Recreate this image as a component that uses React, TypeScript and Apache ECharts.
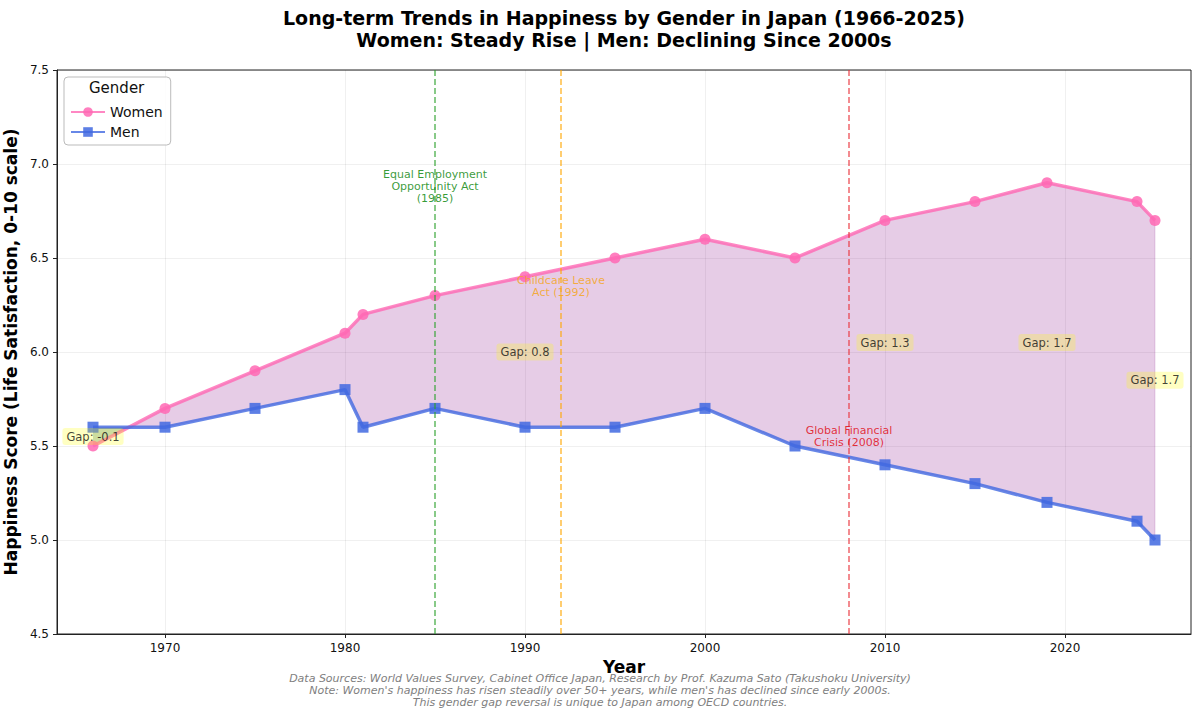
import React, { useEffect, useRef } from "react";
import * as echarts from "echarts";

const years = [1966, 1970, 1975, 1980, 1981, 1985, 1990, 1995, 2000, 2005, 2010, 2015, 2019, 2024, 2025];
const women = [5.5, 5.7, 5.9, 6.1, 6.2, 6.3, 6.4, 6.5, 6.6, 6.5, 6.7, 6.8, 6.9, 6.8, 6.7];
const men = [5.6, 5.6, 5.7, 5.8, 5.6, 5.7, 5.6, 5.6, 5.7, 5.5, 5.4, 5.3, 5.2, 5.1, 5.0];

const xTicks = [1970, 1980, 1990, 2000, 2010, 2020];

const eventYears = [1985, 1992, 2008];
const eventLabels = ["Equal Employment\nOpportunity Act\n(1985)", "Childcare Leave\nAct (1992)", "Global Financial\nCrisis (2008)"];
const eventColors = ["#2ca02c", "#ffa500", "#e8313a"];
const eventTextColors = ["#138a13", "#f5a623", "#e0101a"];
const eventLabelY = [6.88, 6.35, 5.55];

const gapYears = [1966, 1990, 2010, 2019, 2025];

const FONT = "DejaVu Sans";

export default function App() {
  const ref = useRef<HTMLDivElement>(null);

  useEffect(() => {
    document.body.style.margin = "0";
    const chart = echarts.init(ref.current!, null, { renderer: "svg" });

    // merged boundary points with crossings for fill_between
    const merged: number[][] = [];
    for (let i = 0; i < years.length; i++) {
      if (i > 0) {
        const d0 = women[i - 1] - men[i - 1];
        const d1 = women[i] - men[i];
        if (d0 * d1 < 0) {
          const t = d0 / (d0 - d1);
          const x = years[i - 1] + t * (years[i] - years[i - 1]);
          const y = men[i - 1] + t * (men[i] - men[i - 1]);
          merged.push([x, y, y]);
        }
      }
      merged.push([years[i], women[i], men[i]]);
    }

    const gapData = gapYears.map((yr) => {
      const i = years.indexOf(yr);
      const g = women[i] - men[i];
      return {
        value: [yr, (women[i] + men[i]) / 2],
        gap: (g >= 0 ? "" : "-") + Math.abs(g).toFixed(1),
      };
    });

    const option: any = {
      animation: false,
      textStyle: { fontFamily: FONT },
      grid: {
        left: 57,
        right: 9,
        top: 70,
        bottom: 82,
        containLabel: false,
        outerBoundsMode: "none",
        show: true,
        borderColor: "#222",
        borderWidth: 1,
        backgroundColor: "transparent",
      },
      legend: {
        orient: "vertical",
        left: 64,
        top: 77,
        padding: [28, 8, 6, 6],
        itemGap: 6,
        itemWidth: 34,
        itemHeight: 12,
        borderColor: "#bbb",
        borderWidth: 1,
        borderRadius: 4,
        backgroundColor: "rgba(255,255,255,0.85)",
        textStyle: { fontSize: 14, color: "#111", fontFamily: FONT },
        data: ["Women", "Men"],
      },
      xAxis: {
        type: "value",
        min: 1964,
        max: 2027,
        name: "Year",
        nameLocation: "middle",
        nameGap: 23,
        nameTextStyle: { fontSize: 17, fontWeight: "bold", color: "#000", fontFamily: FONT },
        axisLine: { show: true, lineStyle: { color: "#222" } },
        axisTick: { show: true, length: 4, lineStyle: { color: "#222" }, customValues: xTicks },
        axisLabel: { color: "#111", fontSize: 12, customValues: xTicks, margin: 8, formatter: (v: number) => String(v) },
        splitLine: { show: true, lineStyle: { color: "rgba(0,0,0,0.06)", width: 1 } },
      },
      yAxis: {
        type: "value",
        min: 4.5,
        max: 7.5,
        interval: 0.5,
        name: "Happiness Score (Life Satisfaction, 0-10 scale)",
        nameLocation: "middle",
        nameGap: 29,
        nameTextStyle: { fontSize: 17, fontWeight: "bold", color: "#000", fontFamily: FONT },
        axisLine: { show: true, lineStyle: { color: "#222" } },
        axisTick: { show: true, length: 4, lineStyle: { color: "#222" } },
        axisLabel: { color: "#111", fontSize: 12, margin: 8, formatter: (v: number) => v.toFixed(1) },
        splitLine: { show: true, lineStyle: { color: "rgba(0,0,0,0.06)", width: 1 } },
      },
      series: [
        {
          type: "custom",
          name: "fill",
          z: 1,
          silent: true,
          data: [[1995, 6]],
          renderItem: (params: any, api: any) => {
            const posTop = merged.map((p) => api.coord([p[0], Math.max(p[1], p[2])]));
            const posBot = merged.map((p) => api.coord([p[0], p[2]])).reverse();
            const negTop = merged.map((p) => api.coord([p[0], p[2]]));
            const negBot = merged.map((p) => api.coord([p[0], Math.min(p[1], p[2])])).reverse();
            return {
              type: "group",
              children: [
                {
                  type: "polygon",
                  shape: { points: posTop.concat(posBot) },
                  style: { fill: "rgba(128,0,128,0.2)", stroke: "rgba(128,0,128,0.15)", lineWidth: 1 },
                },
                {
                  type: "polygon",
                  shape: { points: negTop.concat(negBot) },
                  style: { fill: "rgba(70,130,120,0.35)" },
                },
              ],
            };
          },
        },
        {
          type: "line",
          name: "Women",
          z: 4,
          data: years.map((y, i) => [y, women[i]]),
          symbol: "circle",
          symbolSize: 11,
          lineStyle: { color: "#ff69b4", width: 3.5, opacity: 0.8 },
          itemStyle: { color: "#ff69b4", opacity: 0.85 },
          markLine: {
            silent: true,
            symbol: "none",
            label: { show: false },
            data: eventYears.map((yr, i) => ({
              xAxis: yr,
              lineStyle: { color: eventColors[i], type: [6, 3], width: 1.5, opacity: 0.75 },
            })),
          },
        },
        {
          type: "line",
          name: "Men",
          z: 4,
          data: years.map((y, i) => [y, men[i]]),
          symbol: "rect",
          symbolSize: 11,
          lineStyle: { color: "#4169e1", width: 3.5, opacity: 0.8 },
          itemStyle: { color: "#4169e1", opacity: 0.85 },
        },
        {
          type: "scatter",
          name: "events",
          z: 5,
          silent: true,
          symbolSize: 0,
          data: eventYears.map((yr, i) => ({
            value: [yr, eventLabelY[i]],
            label: {
              show: true,
              position: "inside",
              formatter: eventLabels[i],
              color: eventTextColors[i],
              opacity: 0.85,
              fontSize: 11,
              lineHeight: 12,
              align: "center",
              fontFamily: FONT,
            },
          })),
        },
        {
          type: "scatter",
          name: "gaps",
          z: 6,
          silent: true,
          symbolSize: 0,
          data: gapData.map((d) => ({
            value: d.value,
            label: {
              show: true,
              position: "inside",
              formatter: "Gap: " + d.gap,
              color: "#111",
              fontSize: 11.5,
              fontFamily: FONT,
              backgroundColor: "rgba(255,255,0,0.3)",
              borderRadius: 3,
              padding: [3, 4, 2, 4],
            },
          })),
        },
      ],
      graphic: [
        {
          type: "text",
          left: 117 - 28,
          top: 80,
          z: 100,
          style: { text: "Gender", fontSize: 15, fontFamily: FONT, fill: "#111" },
        },
        {
          type: "text",
          x: 624,
          y: 7,
          z: 100,
          style: {
            text: "Long-term Trends in Happiness by Gender in Japan (1966-2025)\nWomen: Steady Rise | Men: Declining Since 2000s",
            fontSize: 19,
            fontWeight: "bold",
            fontFamily: FONT,
            fill: "#000",
            align: "center",
            textAlign: "center",
            verticalAlign: "top",
            textVerticalAlign: "top",
            lineHeight: 22,
          },
        },
        {
          type: "text",
          x: 600,
          y: 672,
          z: 100,
          style: {
            text:
              "Data Sources: World Values Survey, Cabinet Office Japan, Research by Prof. Kazuma Sato (Takushoku University)\nNote: Women's happiness has risen steadily over 50+ years, while men's has declined since early 2000s.\nThis gender gap reversal is unique to Japan among OECD countries.",
            fontSize: 11,
            fontStyle: "italic",
            fontFamily: FONT,
            fill: "#808080",
            align: "center",
            textAlign: "center",
            verticalAlign: "top",
            textVerticalAlign: "top",
            lineHeight: 12,
          },
        },
      ],
    };

    chart.setOption(option);
    return () => chart.dispose();
  }, []);

  return <div ref={ref} style={{ width: 1200, height: 716 }} />;
}
